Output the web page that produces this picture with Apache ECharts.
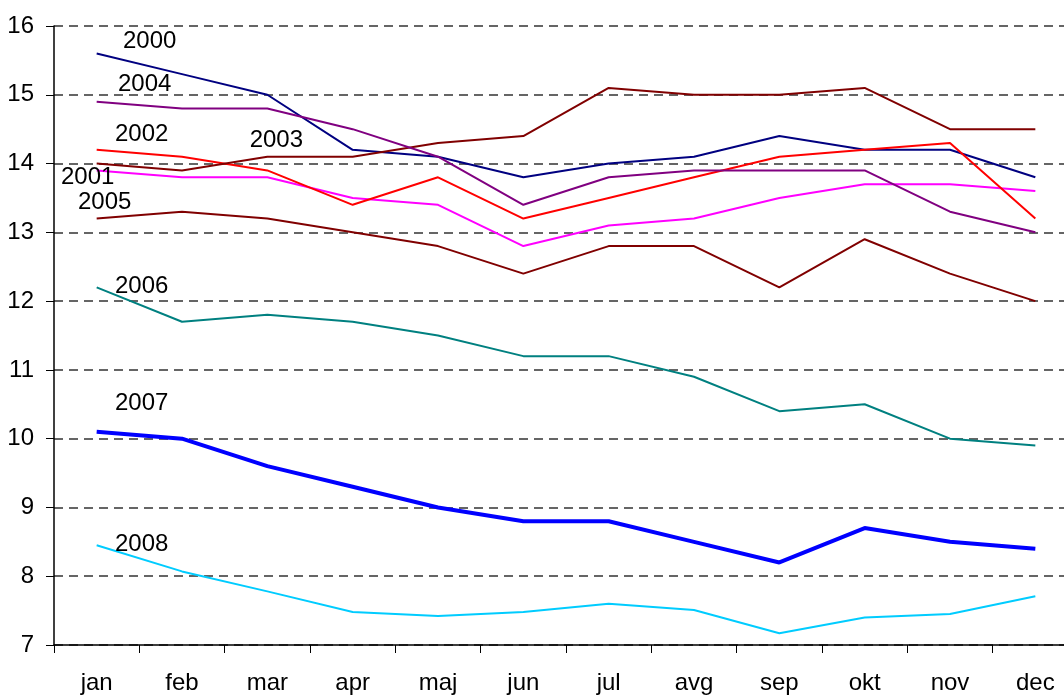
<!DOCTYPE html>
<html>
<head>
<meta charset="utf-8">
<script src="https://cdn.jsdelivr.net/npm/echarts@6/dist/echarts.min.js"></script>
<style>
  html, body { margin: 0; padding: 0; background: #fff; overflow: hidden; }
  /* the source picture is cut at the right: the last category runs past the edge */
  #main { width: 1078px; height: 695px; }
</style>
</head>
<body>
<div id="main"></div>
<script>
var months = ['jan', 'feb', 'mar', 'apr', 'maj', 'jun', 'jul', 'avg', 'sep', 'okt', 'nov', 'dec'];

var y2000 = [15.6, 15.3, 15.0, 14.2, 14.1, 13.8, 14.0, 14.1, 14.4, 14.2, 14.2, 13.8];
var y2001 = [13.9, 13.8, 13.8, 13.5, 13.4, 12.8, 13.1, 13.2, 13.5, 13.7, 13.7, 13.6];
var y2002 = [14.2, 14.1, 13.9, 13.4, 13.8, 13.2, 13.5, 13.8, 14.1, 14.2, 14.3, 13.2];
var y2003 = [14.0, 13.9, 14.1, 14.1, 14.3, 14.4, 15.1, 15.0, 15.0, 15.1, 14.5, 14.5];
var y2004 = [14.9, 14.8, 14.8, 14.5, 14.1, 13.4, 13.8, 13.9, 13.9, 13.9, 13.3, 13.0];
var y2005 = [13.2, 13.3, 13.2, 13.0, 12.8, 12.4, 12.8, 12.8, 12.2, 12.9, 12.4, 12.0];
var y2006 = [12.2, 11.7, 11.8, 11.7, 11.5, 11.2, 11.2, 10.9, 10.4, 10.5, 10.0, 9.9];
var y2007 = [10.1, 10.0, 9.6, 9.3, 9.0, 8.8, 8.8, 8.5, 8.2, 8.7, 8.5, 8.4];
var y2008 = [8.45, 8.07, 7.78, 7.48, 7.42, 7.48, 7.6, 7.51, 7.17, 7.4, 7.45, 7.71];

var yTicks = [7, 8, 9, 10, 11, 12, 13, 14, 15, 16];

// name, values, color, width, label month index, label offset
var lines = [
    ['2000', y2000, '#000080', 2, 0, [53, -12]],
    ['2001', y2001, '#ff00ff', 2, 0, [-9, 7]],
    ['2002', y2002, '#ff0000', 2, 0, [45, -15]],
    ['2003', y2003, '#800000', 2, 2, [9, -16]],
    ['2004', y2004, '#800080', 2, 0, [48, -17]],
    ['2005', y2005, '#800000', 2, 0, [8, -16]],
    ['2006', y2006, '#008080', 2, 0, [45, -1]],
    ['2007', y2007, '#0000ff', 4, 0, [45, -28]],
    ['2008', y2008, '#00ccff', 2, 0, [45, -1]]
];

var font = 'Liberation Sans, Arial, sans-serif';

var series = lines.map(function (l) {
    return {
        name: l[0],
        type: 'line',
        symbol: 'circle',
        symbolSize: 0,
        showSymbol: true,
        animation: false,
        lineStyle: { color: l[2], width: l[3] },
        itemStyle: { color: l[2] },
        data: l[1].map(function (v, i) {
            if (i !== l[4]) return v;
            return {
                value: v,
                label: {
                    show: true,
                    position: 'inside',
                    offset: l[5],
                    formatter: l[0],
                    color: '#000',
                    fontSize: 24,
                    fontFamily: font,
                    align: 'center',
                    verticalAlign: 'middle'
                }
            };
        })
    };
});

var myChart = echarts.init(document.getElementById('main'));
myChart.setOption({
    animation: false,
    grid: { left: 54, right: 0, top: 26, bottom: 49.5, containLabel: false },
    xAxis: {
        type: 'category',
        data: months,
        boundaryGap: true,
        axisLine: { lineStyle: { color: '#000', width: 1.5 } },
        axisTick: { show: true, length: 8, lineStyle: { color: '#000' } },
        axisLabel: { color: '#000', fontSize: 24, fontFamily: font, margin: 26 }
    },
    yAxis: {
        type: 'value',
        min: 7,
        max: 16,
        interval: 1,
        axisLine: { show: true, lineStyle: { color: '#000', width: 1.5 } },
        axisTick: { show: true, length: 8, lineStyle: { color: '#000' } },
        axisLabel: {
            color: '#000', fontSize: 24, fontFamily: font, margin: 20,
            formatter: function (v) { return yTicks.indexOf(v) >= 0 ? String(v) : ''; }
        },
        splitLine: { show: true, lineStyle: { color: '#333', type: [9, 6], width: 1.5 } }
    },
    series: series
});
</script>
</body>
</html>
